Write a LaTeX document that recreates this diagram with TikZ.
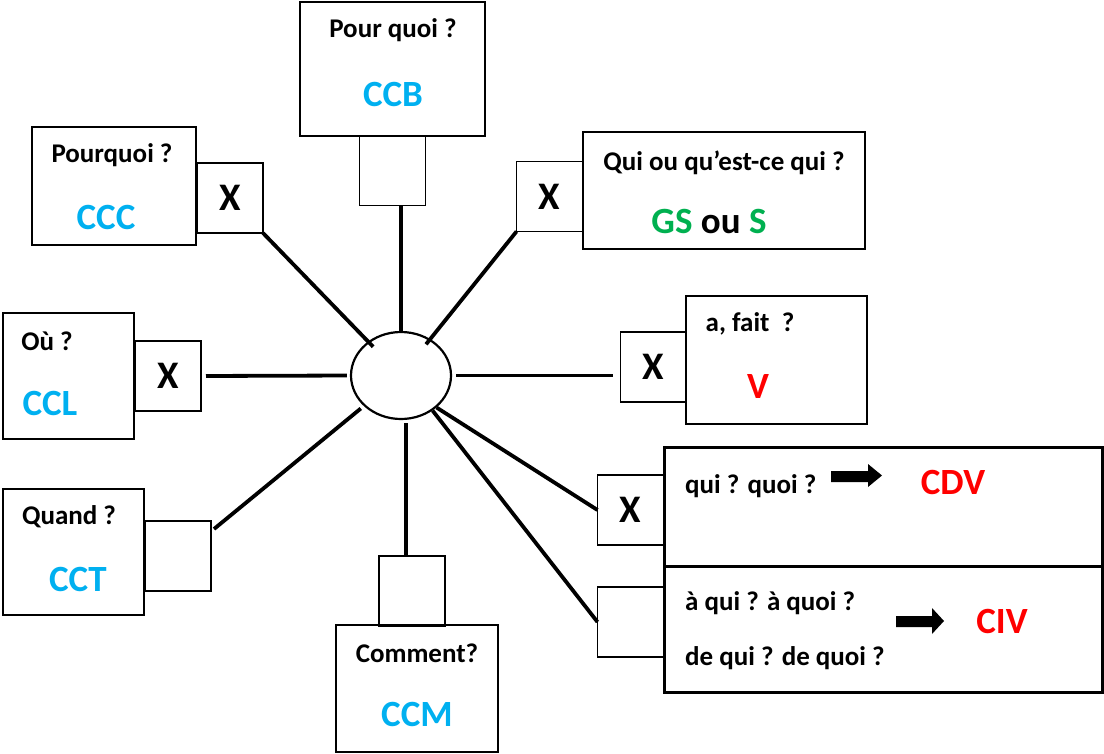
\documentclass[tikz,border=0pt]{standalone}
\usepackage{fontspec}
\setmainfont{Carlito}
\usetikzlibrary{calc,shapes.geometric}
\definecolor{ccblue}{HTML}{00B0F0}
\definecolor{gsgreen}{HTML}{00B050}
\definecolor{cvred}{HTML}{FF0000}

\begin{document}
\begin{tikzpicture}[x=1pt, y=-1pt,
    B/.style = {rectangle, draw, line width=1.6pt,% outer boxes
                inner sep=0pt, outer sep=0pt},
    S/.style = {rectangle, draw, line width=1.5pt,% small squares
                minimum width=66pt, minimum height=70pt,
                inner sep=0pt, outer sep=0pt, font=\fontsize{39}{40}\selectfont\bfseries},
    Q/.style = {inner sep=0pt, font=\fontsize{27}{30}\selectfont\bfseries},
    C/.style = {inner sep=0pt, font=\fontsize{37}{40}\selectfont\bfseries},
    L/.style = {line width=3.8pt},
                        ]
\useasboundingbox (0,0) rectangle (1104,753);
% centre
\node[draw, ellipse, line width=2.2pt, minimum width=100pt, minimum height=87pt, inner sep=0pt] (c) at (401,375.5) {};
% boxes
\node[B, line width=2.8pt, minimum width=185pt, minimum height=134pt] (bB) at (392.5,69) {};
\node[S] (sqB) at (392.5,170.5) {};
\node[B, minimum width=164pt, minimum height=118pt] (bC) at (114,186) {};
\node[S] (xC) at (230,198) {X};
\node[B, minimum width=131pt, minimum height=126pt] (bL) at (68.5,376) {};
\node[S] (xL) at (168,376) {X};
\node[B, minimum width=141pt, minimum height=126pt] (bT) at (73.5,552) {};
\node[S] (sqT) at (178,556) {};
\node[B, minimum width=162pt, minimum height=127pt] (bM) at (417,688.5) {};
\node[S] (sqM) at (412,591) {};
\node[B, minimum width=282pt, minimum height=117pt] (bS) at (724,190.5) {};
\node[S] (xS) at (549.5,196.5) {X};
\node[B, minimum width=181pt, minimum height=128pt] (bV) at (776.5,360) {};
\node[S] (xV) at (653.5,367) {X};
\node[B, line width=3pt, minimum width=438pt, minimum height=245pt] (bO) at (883,569.5) {};
\draw[line width=3pt] (bO.west |- 0,566) -- (bO.east |- 0,566);
\node[S] (xD) at (630.5,510) {X};
\node[S] (xI) at (630.5,622) {};
% texts
\node[Q] (tB) at (393,30) {Pour quoi ?};
\node[C, text=ccblue] (cB) at (393,94) {CCB};
\node[Q] (tC) at (112,155) {Pourquoi ?};
\node[C, text=ccblue] (cC) at (106,217) {CCC};
\node[Q] (tL) at (47,341) {Où ?};
\node[C, text=ccblue] (cL) at (50,403) {CCL};
\node[Q] (tT) at (69,517) {Quand ?};
\node[C, text=ccblue] (cT) at (78,579) {CCT};
\node[Q] (tM) at (417,653) {Comment?};
\node[C, text=ccblue] (cM) at (417,714) {CCM};
\node[Q] (tS) at (724,163) {Qui ou qu’est-ce qui ?};
\node[C] (cS) at (709,221) {\textcolor{gsgreen}{GS} ou \textcolor{gsgreen}{S}};
\node[Q] (tV) at (750,324) {a, fait~ ?};
\node[C, text=cvred] (cV) at (758,386) {V};
\node[Q, anchor=west] (tD) at (685,486) {qui ? quoi ?};
\node[C, text=cvred] (cD) at (953,482) {CDV};
\node[Q, anchor=west] (tI) at (685,603) {à qui ? à quoi ?};
\node[Q, anchor=west] (tJ) at (685,658) {de qui ? de quoi ?};
\node[C, text=cvred] (cI) at (1002,621) {CIV};
% block arrows
\fill (831,471) -- ++(37,0) -- ++(0,-7) -- ++(14,11.5) -- ++(-14,11.5) -- ++(0,-5) -- ++(-37,0) -- cycle;
\fill (896,616) -- ++(36,0) -- ++(0,-8) -- ++(12,13) -- ++(-12,13) -- ++(0,-7) -- ++(-36,0) -- cycle;
% connectors
\draw[L, shorten >=40pt] (xC.south east) -- (c.center);
\draw[L] (sqB.south -| c.north) -- (c.north);
\draw[L, shorten >=40pt] (xS.south west) -- (c.center);
\draw[L, shorten <=4pt, shorten >=8pt] (c.east) -- (c.east -| xV.west);
\draw[L, shorten <=5pt, shorten >=3pt] (xL.east) -- (c.west);
\draw[L, shorten >=52pt] ($(sqT.north east)+(3,8)$) -- (c.center);
\draw[L] ([xshift=5pt,yshift=-3pt]c.south) -- ([xshift=5pt]c.south |- sqM.north);
\draw[L] (c.-42) -- (xD.west);
\draw[L] (c.-48) -- (xI.west);
\end{tikzpicture}
\end{document}
